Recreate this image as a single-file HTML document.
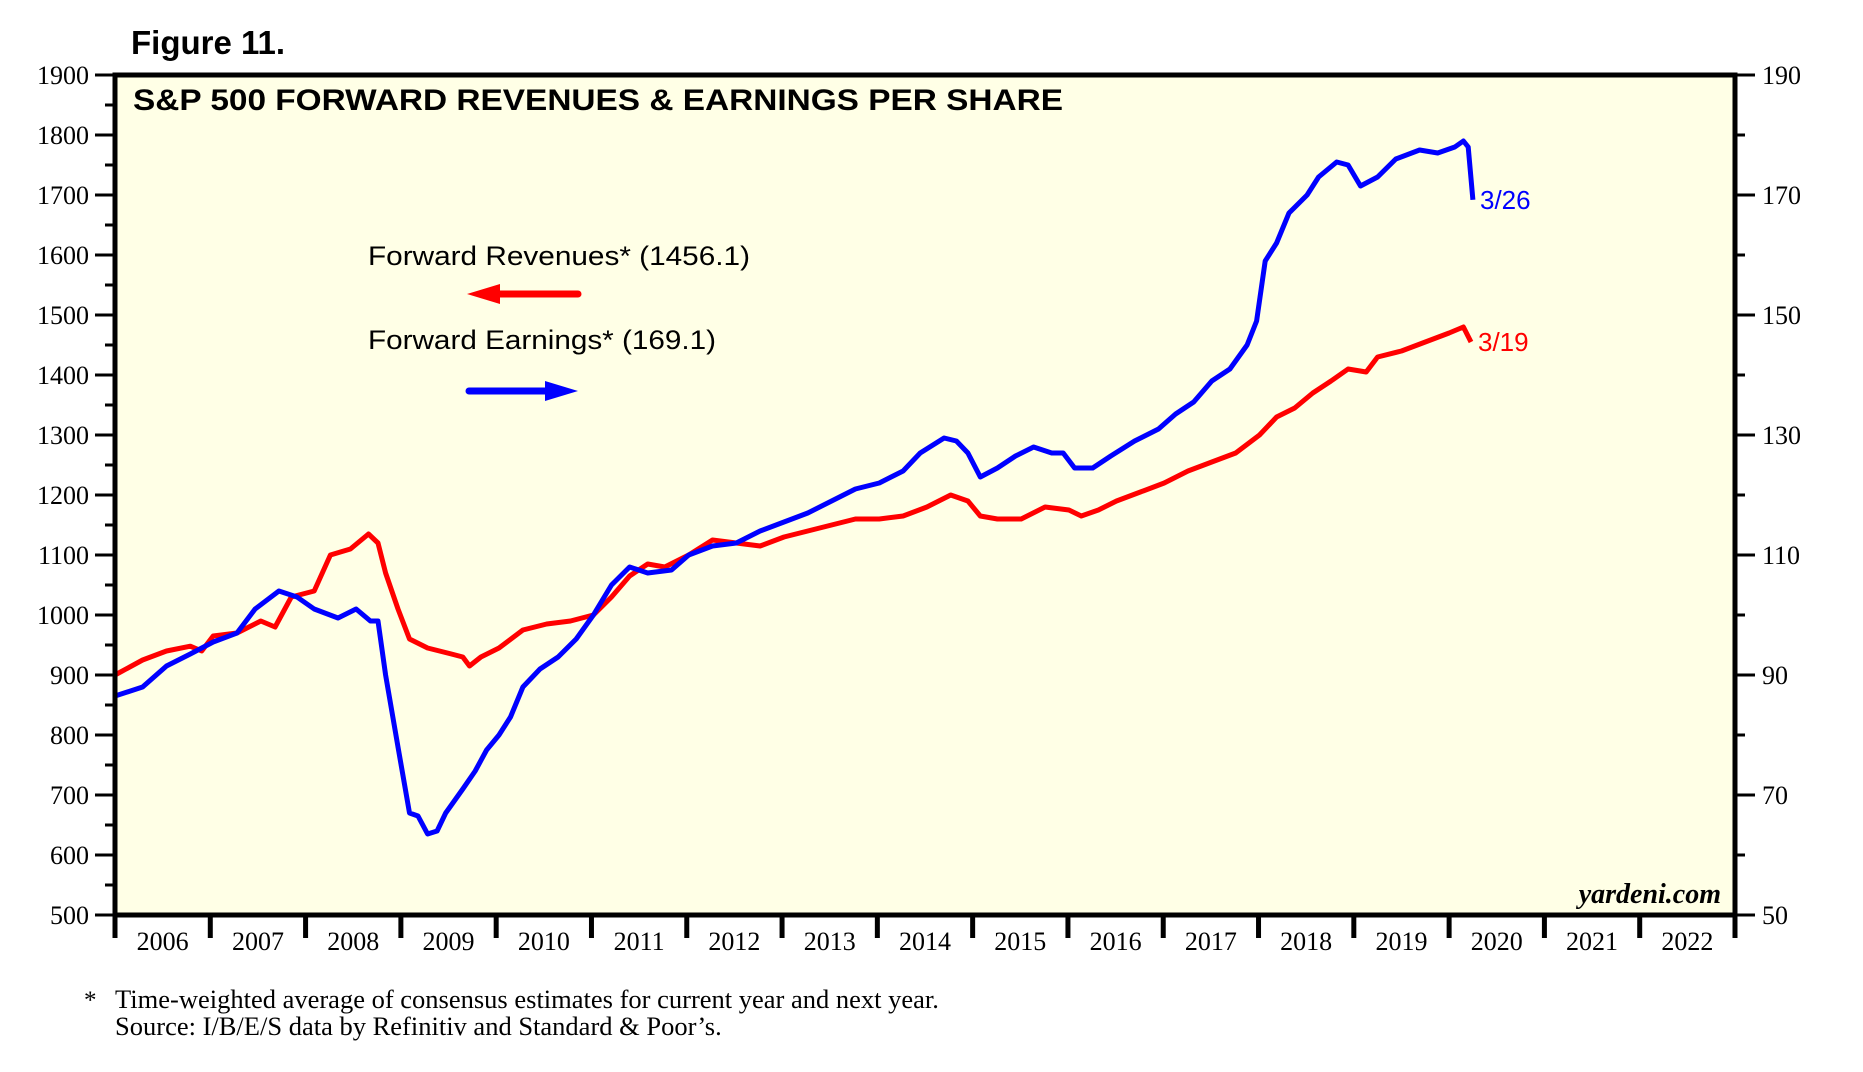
<!DOCTYPE html>
<html><head><meta charset="utf-8"><style>
html,body{margin:0;padding:0;background:#fff;}
svg{display:block;}
</style></head><body>
<svg id="chart" width="1863" height="1072" xmlns="http://www.w3.org/2000/svg">
<text x="131" y="54" font-family="Liberation Sans, sans-serif" font-weight="bold" font-size="33">Figure 11.</text>
<rect x="115" y="75" width="1620" height="840" fill="#ffffe6"/>
<g id="axes"></g>
<g id="series"></g>
<rect x="115" y="75" width="1620" height="840" fill="none" stroke="#000" stroke-width="5"/>
<text x="133" y="110" font-family="Liberation Sans, sans-serif" font-weight="bold" font-size="30" textLength="930" lengthAdjust="spacingAndGlyphs">S&amp;P 500 FORWARD REVENUES &amp; EARNINGS PER SHARE</text>
<text x="368" y="265" font-family="Liberation Sans, sans-serif" font-size="27" textLength="382" lengthAdjust="spacingAndGlyphs">Forward Revenues* (1456.1)</text>
<g><line x1="500" y1="294" x2="578" y2="294" stroke="#ff0000" stroke-width="7" stroke-linecap="round"/><polygon points="467,294 500,284 500,304" fill="#ff0000"/></g>
<text x="368" y="349" font-family="Liberation Sans, sans-serif" font-size="27" textLength="348" lengthAdjust="spacingAndGlyphs">Forward Earnings* (169.1)</text>
<g><line x1="469" y1="391" x2="545" y2="391" stroke="#0000ff" stroke-width="7" stroke-linecap="round"/><polygon points="578,391 545,381 545,401" fill="#0000ff"/></g>
<text x="1480" y="209" font-family="Liberation Sans, sans-serif" font-size="26" fill="#0000ff">3/26</text>
<text x="1478" y="351" font-family="Liberation Sans, sans-serif" font-size="26" fill="#ff0000">3/19</text>
<text x="1721" y="903" text-anchor="end" font-family="Liberation Serif, serif" font-style="italic" font-weight="bold" font-size="28">yardeni.com</text>
<text x="84" y="1008" font-family="Liberation Serif, serif" font-size="25">*</text>
<text x="115" y="1008" font-family="Liberation Serif, serif" font-size="26.5">Time-weighted average of consensus estimates for current year and next year.</text>
<text x="115" y="1035" font-family="Liberation Serif, serif" font-size="26.5">Source: I/B/E/S data by Refinitiv and Standard &amp; Poor’s.</text>
</svg>
<script>
const yearLabels = [2006,2007,2008,2009,2010,2011,2012,2013,2014,2015,2016,2017,2018,2019,2020,2021,2022];
const leftTicks = [500,600,700,800,900,1000,1100,1200,1300,1400,1500,1600,1700,1800,1900];
const rightTicks = [50,70,90,110,130,150,170,190];
const revDates = [2006.00,2006.29,2006.54,2006.79,2006.91,2007.03,2007.28,2007.53,2007.68,2007.85,2008.09,2008.26,2008.47,2008.66,2008.76,2008.84,2008.97,2009.09,2009.28,2009.53,2009.65,2009.72,2009.84,2010.03,2010.28,2010.53,2010.78,2011.02,2011.21,2011.40,2011.59,2011.77,2012.02,2012.27,2012.52,2012.77,2013.02,2013.27,2013.52,2013.77,2014.02,2014.27,2014.52,2014.77,2014.95,2015.08,2015.26,2015.51,2015.76,2016.01,2016.14,2016.32,2016.51,2016.76,2017.01,2017.26,2017.51,2017.76,2018.01,2018.19,2018.38,2018.57,2018.76,2018.94,2019.13,2019.25,2019.50,2019.75,2020.00,2020.15,2020.23];
const revValues = [900,925,940,948,940,965,970,990,980,1030,1040,1100,1110,1135,1120,1070,1010,960,945,935,930,915,930,945,975,985,990,1000,1030,1065,1085,1080,1100,1125,1120,1115,1130,1140,1150,1160,1160,1165,1180,1200,1190,1165,1160,1160,1180,1175,1165,1175,1190,1205,1220,1240,1255,1270,1300,1330,1345,1370,1390,1410,1405,1430,1440,1455,1470,1480,1455];
const epsDates = [2006.00,2006.29,2006.54,2006.79,2007.03,2007.28,2007.47,2007.72,2007.91,2008.09,2008.34,2008.53,2008.68,2008.76,2008.84,2008.97,2009.09,2009.18,2009.28,2009.38,2009.47,2009.65,2009.78,2009.90,2010.03,2010.15,2010.28,2010.46,2010.65,2010.84,2011.02,2011.21,2011.40,2011.59,2011.84,2012.02,2012.27,2012.52,2012.77,2013.02,2013.27,2013.52,2013.77,2014.02,2014.27,2014.45,2014.70,2014.83,2014.95,2015.08,2015.26,2015.45,2015.64,2015.83,2015.95,2016.07,2016.26,2016.45,2016.70,2016.95,2017.13,2017.32,2017.51,2017.70,2017.88,2017.98,2018.07,2018.19,2018.32,2018.51,2018.63,2018.82,2018.94,2019.07,2019.25,2019.44,2019.69,2019.88,2020.06,2020.15,2020.20,2020.25];
const epsValues = [86.5,88,91.5,93.5,95.5,97,101,104,103,101,99.5,101,99,99,90,78,67,66.5,63.5,64,67,71,74,77.5,80,83,88,91,93,96,100,105,108,107,107.5,110,111.5,112,114,115.5,117,119,121,122,124,127,129.5,129,127,123,124.5,126.5,128,127,127,124.5,124.5,126.5,129,131,133.5,135.5,139,141,145,149,159,162,167,170,173,175.5,175,171.5,173,176,177.5,177,178,179,178,169.2];

const X0=115,X1=1735,Y0=75,Y1=915;
const xScale = y => X0 + (y-2006)*(X1-X0)/17;
const yLeft = v => Y1 - (v-500)*(Y1-Y0)/1400;
const yRight = v => Y1 - (v-50)*(Y1-Y0)/140;
const NS='http://www.w3.org/2000/svg';
const axes=document.getElementById('axes'), series=document.getElementById('series');
function mk(tag, attrs, parent){const e=document.createElementNS(NS,tag);for(const k in attrs)e.setAttribute(k,attrs[k]);parent.appendChild(e);return e;}

for(let v=500; v<=1900; v+=50){
  const y=yLeft(v), major=(v%100===0);
  const t=mk('line',{x1:major?95:105,x2:X0,y1:y,y2:y,stroke:'#000','stroke-width':3},axes);
  
  
}
leftTicks.forEach(v=>{
  const t=mk('text',{x:89,y:yLeft(v)+9,'text-anchor':'end','font-family':'Liberation Serif, serif','font-size':26},axes);
  t.textContent=v;
  
  
});
for(let v=50; v<=190; v+=10){
  const y=yRight(v), major=(v%20===10);
  const t=mk('line',{x1:X1,x2:major?1755:1745,y1:y,y2:y,stroke:'#000','stroke-width':3},axes);
  
  
}
rightTicks.forEach(v=>{
  const t=mk('text',{x:1762,y:yRight(v)+9,'font-family':'Liberation Serif, serif','font-size':26},axes);
  t.textContent=v;
  
  
});
for(let i=0;i<=yearLabels.length;i++){
  const x=xScale(2006+i);
  const t=mk('line',{x1:x,x2:x,y1:Y1,y2:938,stroke:'#000','stroke-width':5},axes);
  
  
}
yearLabels.forEach(yr=>{
  const t=mk('text',{x:xScale(yr+0.5),y:950,'text-anchor':'middle','font-family':'Liberation Serif, serif','font-size':26},axes);
  t.textContent=yr;
  
  
});
const rp=revDates.map((d,i)=>xScale(d).toFixed(1)+','+yLeft(revValues[i]).toFixed(1)).join(' ');
const rl=mk('polyline',{points:rp,fill:'none',stroke:'#ff0000','stroke-width':5,'stroke-linejoin':'round'},series);


const ep=epsDates.map((d,i)=>xScale(d).toFixed(1)+','+yRight(epsValues[i]).toFixed(1)).join(' ');
const el=mk('polyline',{points:ep,fill:'none',stroke:'#0000ff','stroke-width':5,'stroke-linejoin':'round'},series);


</script>
</body></html>
